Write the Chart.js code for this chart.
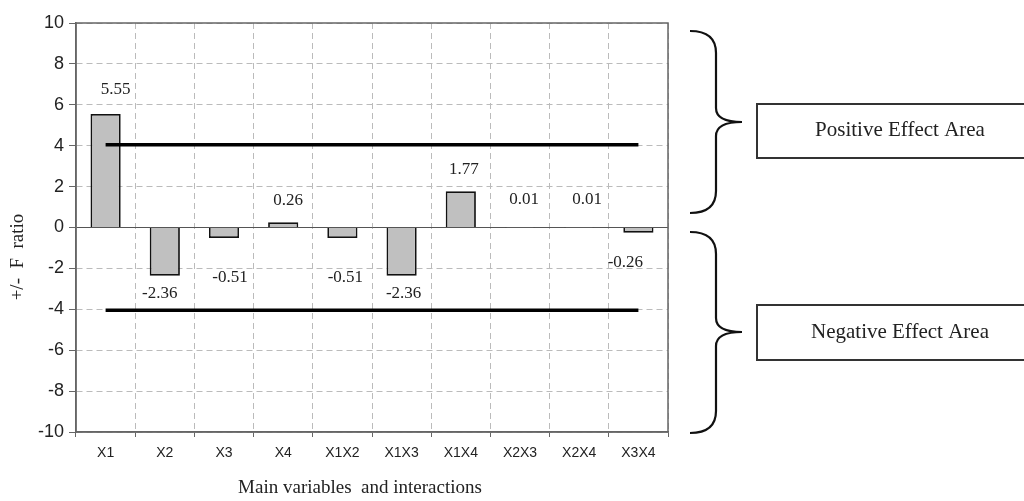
<!DOCTYPE html>
<html>
<head>
<meta charset="utf-8">
<script src="https://cdn.jsdelivr.net/npm/chart.js@4.4.1/dist/chart.umd.min.js"></script>
<style>
  html, body { margin: 0; padding: 0; background: #fff; }
  #wrap { width: 1024px; height: 501px; }
</style>
</head>
<body>
<div id="wrap"><canvas id="BarChart1" width="1024" height="501"></canvas></div>
<script>
// chart data
const categories = ['X1', 'X2', 'X3', 'X4', 'X1X2', 'X1X3', 'X1X4', 'X2X3', 'X2X4', 'X3X4'];
const fRatios = [5.55, -2.36, -0.51, 0.26, -0.51, -2.36, 1.77, 0.01, 0.01, -0.26];
const upperLimit = [4.05, 4.05, 4.05, 4.05, 4.05, 4.05, 4.05, 4.05, 4.05, 4.05];
const lowerLimit = [-4.05, -4.05, -4.05, -4.05, -4.05, -4.05, -4.05, -4.05, -4.05, -4.05];
const yTicks = [-10, -8, -6, -4, -2, 0, 2, 4, 6, 8, 10];

// label nudges (pixels), same order as categories
const labelDx = [10, -5, 6, 5, 3, 2, 3, 4, 8, -13];
const labelGap = [24, 18, 40, 22, 40, 18, 22, 28, 28, 30];

const serif = '"Liberation Serif", "Times New Roman", serif';
const sans = '"Liberation Sans", Arial, sans-serif';

// value labels, plot frame, braces and boxes
const extras = {
    id: 'extras',
    beforeDatasetsDraw(chart) {
        const {ctx, chartArea: a} = chart;
        ctx.save();
        ctx.strokeStyle = '#666';
        ctx.lineWidth = 1.5;
        ctx.strokeRect(a.left, a.top, a.right - a.left, a.bottom - a.top);
        ctx.restore();
    },
    afterDatasetsDraw(chart) {
        const {ctx} = chart;
        const meta = chart.getDatasetMeta(0);
        ctx.save();
        ctx.font = '17px ' + serif;
        ctx.fillStyle = '#222';
        ctx.textAlign = 'center';
        ctx.textBaseline = 'middle';
        meta.data.forEach((bar, i) => {
            const v = fRatios[i];
            const y = v >= 0 ? bar.y - labelGap[i] : bar.y + labelGap[i];
            ctx.fillText(v.toFixed(2), bar.x + labelDx[i], y);
        });
        ctx.restore();
    },
    afterDraw(chart) {
        const {ctx} = chart;
        ctx.save();

        // y axis title
        ctx.font = '19px ' + serif;
        ctx.fillStyle = '#222';
        ctx.textAlign = 'center';
        ctx.textBaseline = 'middle';
        ctx.translate(18, 257);
        ctx.rotate(-Math.PI / 2);
        ctx.fillText('+/-  F  ratio', 0, 0);
        ctx.setTransform(1, 0, 0, 1, 0, 0);
        ctx.scale(chart.currentDevicePixelRatio, chart.currentDevicePixelRatio);

        // x axis title
        ctx.fillText('Main variables  and interactions', 360, 488);

        // curly braces
        const brace = (top, tip, bottom) => {
            const x0 = 690, x1 = 716, xt = 742;
            ctx.beginPath();
            ctx.moveTo(x0, top);
            ctx.quadraticCurveTo(x1, top, x1, top + 22);
            ctx.lineTo(x1, tip - 14);
            ctx.quadraticCurveTo(x1, tip, xt, tip);
            ctx.quadraticCurveTo(x1, tip, x1, tip + 14);
            ctx.lineTo(x1, bottom - 22);
            ctx.quadraticCurveTo(x1, bottom, x0, bottom);
            ctx.stroke();
        };
        ctx.strokeStyle = '#111';
        ctx.lineWidth = 2.2;
        brace(31, 122, 213);
        brace(232, 332, 433);

        // labelled boxes
        ctx.strokeStyle = '#333';
        ctx.lineWidth = 2;
        ctx.strokeRect(757, 104, 300, 54);
        ctx.strokeRect(757, 305, 300, 55);
        ctx.font = '21px ' + serif;
        ctx.fillStyle = '#222';
        ctx.fillText('Positive Effect Area', 900, 130);
        ctx.fillText('Negative Effect Area', 900, 332);
        ctx.restore();
    }
};

const ctx1 = document.getElementById('BarChart1');
const BarChart1 = new Chart(ctx1, {
    type: 'bar',
    data: {
        labels: categories,
        datasets: [{
            type: 'bar',
            data: fRatios,
            backgroundColor: '#c0c0c0',
            borderColor: '#111',
            borderWidth: 1.8,
            categoryPercentage: 0.51,
            barPercentage: 1,
            order: 1
        }, {
            type: 'line',
            data: upperLimit,
            borderColor: '#000',
            borderWidth: 3.5,
            pointRadius: 0,
            order: 0
        }, {
            type: 'line',
            data: lowerLimit,
            borderColor: '#000',
            borderWidth: 3.5,
            pointRadius: 0,
            order: 0
        }]
    },
    options: {
        responsive: false,
        animation: false,
        layout: {
            padding: {left: 0, right: 356, top: 23, bottom: 0}
        },
        plugins: {
            legend: {display: false},
            tooltip: {enabled: false}
        },
        scales: {
            x: {
                offset: true,
                afterFit: s => { s.height = 69; },
                grid: {
                    offset: true,
                    color: '#bbb',
                    tickColor: '#666',
                    tickLength: 5
                },
                border: {display: true, color: '#666', width: 1.5, dash: [6, 4]},
                ticks: {
                    color: '#222',
                    padding: 8,
                    font: {family: sans, size: 14}
                }
            },
            y: {
                min: -10,
                max: 10,
                afterFit: s => { s.width = 76; },
                afterBuildTicks: s => { s.ticks = yTicks.map(v => ({value: v})); },
                grid: {
                    color: c => c.tick && c.tick.value === 0 ? '#555' : '#bbb',
                    tickColor: '#666',
                    tickLength: 7
                },
                border: {
                    display: true,
                    color: '#666',
                    width: 1.5,
                    dash: c => c.tick && c.tick.value === 0 ? [] : [6, 4]
                },
                ticks: {
                    color: '#222',
                    padding: 5,
                    font: {family: sans, size: 18}
                }
            }
        }
    },
    plugins: [extras]
});
</script>
</body>
</html>
